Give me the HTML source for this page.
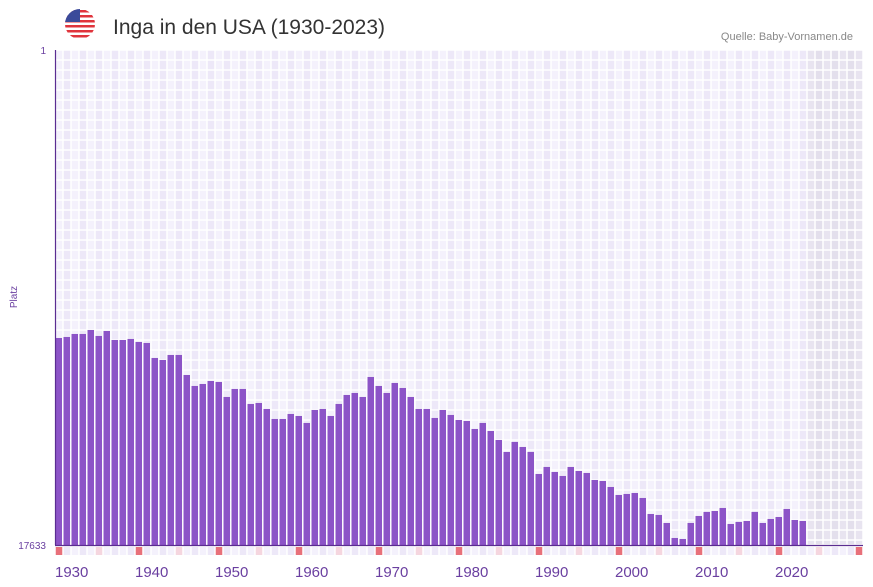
<!DOCTYPE html>
<html><head><meta charset="utf-8"><style>
body{margin:0;background:#fff;font-family:"Liberation Sans",sans-serif}
svg{display:block}
</style></head><body>
<svg id="chart" width="873" height="587" xmlns="http://www.w3.org/2000/svg">
<g>
<clipPath id="fc"><circle cx="80" cy="24" r="15"/></clipPath>
<g clip-path="url(#fc)">
<rect x="65" y="9" width="30" height="30" fill="#fff"/>
<rect x="65" y="10" width="30" height="2.5" fill="#e0343c"/><rect x="65" y="15" width="30" height="2.5" fill="#e0343c"/>
<rect x="65" y="20" width="30" height="2.5" fill="#e0343c"/><rect x="65" y="25" width="30" height="2.5" fill="#e0343c"/>
<rect x="65" y="30" width="30" height="2.5" fill="#e0343c"/><rect x="65" y="35" width="30" height="2.5" fill="#e0343c"/>
<rect x="65" y="9" width="15" height="13" fill="#3b4a9a"/>
</g></g>
<text x="113" y="34" font-size="21" fill="#333">Inga in den USA (1930-2023)</text>
<text x="853" y="40" font-size="11" fill="#888" text-anchor="end">Quelle: Baby-Vornamen.de</text>
<text x="46" y="54" font-size="10" fill="#6a3fa0" text-anchor="end">1</text>
<text x="46" y="549" font-size="10" fill="#6a3fa0" text-anchor="end">17633</text>
<text transform="translate(17,297) rotate(-90)" font-size="10" fill="#6a3fa0" text-anchor="middle">Platz</text>
<g id="grid"></g>
<g id="bars"></g>
<g id="xlabels"></g>
<line x1="55" y1="545.5" x2="863" y2="545.5" stroke="#5b2d91" stroke-width="1.2"/>
<line x1="55.5" y1="50" x2="55.5" y2="545" stroke="#5b2d91" stroke-width="1.2"/>
</svg>
<script>
const years = [];
for (let y = 1930; y <= 2023; y++) years.push(y);
const ranks = [10259,10223,10116,10116,9974,10187,10009,10330,10330,10294,10401,10437,10971,11042,10864,10864,11577,11968,11897,11790,11826,12360,12075,12075,12609,12574,12788,13144,13144,12966,13037,13286,12823,12788,13037,12609,12289,12218,12360,11648,11968,12218,11861,12040,12360,12788,12788,13108,12823,13001,13179,13215,13500,13286,13571,13892,14319,13963,14141,14319,15103,14853,15032,15174,14853,14996,15067,15317,15352,15566,15851,15815,15780,15958,16528,16563,16848,17383,17418,16848,16599,16456,16421,16314,16884,16813,16777,16456,16848,16706,16635,16350,16742,16777];
const xTicks = ["1930","1940","1950","1960","1970","1980","1990","2000","2010","2020"];
const minRank = 1, maxRank = 17633, firstYear = 1930, lastYear = 2030;
const X0 = 55, CW = 8, Y0 = 50, Y1 = 545;
const NS = "http://www.w3.org/2000/svg";
const xs = yr => X0 + (yr - firstYear) * CW;
const ys = r => Y0 + (r - minRank) / (maxRank - minRank) * (Y1 - Y0);
function mk(tag, at, parent) { const e = document.createElementNS(NS, tag); for (const k in at) e.setAttribute(k, at[k]); parent.appendChild(e); return e; }
const grid = document.getElementById('grid');
for (let yr = firstYear; yr <= lastYear; yr++) {
  const i = yr - firstYear;
  const future = yr > 2023;
  for (let y = Y0; y < Y1; y += 10) {
    const h = Math.min(10, Y1 - y) - 1.5;
    const c = mk('rect', {x: xs(yr)+0.75, y: y+0.75, width: CW-1.5, height: h, fill: future ? (i%2?'#e3dfec':'#e8e4f0') : (i%2?'#ede8f8':'#f4f1fc')}, grid);
    
    
  }
  let col = i%2?'#ede8f8':'#f4f1fc';
  if (yr % 10 === 0) col = '#e8707a'; else if (yr % 5 === 0) col = '#f5d6df';
  const m = mk('rect', {x: xs(yr)+0.75, y: 547, width: CW-1.5, height: 8, fill: col}, grid);
  
  
}
const bars = document.getElementById('bars');
years.forEach((yr, i) => {
  const top = ys(ranks[i]);
  const b = mk('rect', {x: xs(yr)+0.5, y: top, width: CW-1.5, height: Y1 - top, fill: '#8c54c7'}, bars);
  
  
});
const xl = document.getElementById('xlabels');
xTicks.forEach(t => {
  const e = mk('text', {x: xs(+t), y: 577, 'font-size': 15, fill: '#6a3fa0'}, xl);
  e.textContent = t;
  
  
});
</script>
</body></html>
